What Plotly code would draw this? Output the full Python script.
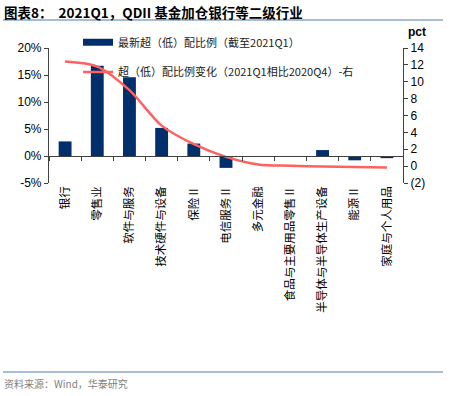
import plotly.graph_objects as go

categories = ["银行", "零售业", "软件与服务", "技术硬件与设备", "保险Ⅱ", "电信服务Ⅱ",
              "多元金融", "食品与主要用品零售Ⅱ", "半导体与半导体生产设备", "能源Ⅱ", "家庭与个人用品"]
latest_ratio = [2.7, 16.7, 14.6, 5.2, 2.3, -2.2, 0.0, -0.1, 1.1, -0.8, -0.4]
ratio_change = [12.4, 11.8, 9.0, 4.8, 2.6, 1.1, 0.2, 0.05, -0.05, -0.1, -0.15]

left_ticks = [-5, 0, 5, 10, 15, 20]
left_ticktext = ["-5%", "0%", "5%", "10%", "15%", "20%"]
right_ticks = [-2, 0, 2, 4, 6, 8, 10, 12, 14]
right_ticktext = ["(2)", "0", "2", "4", "6", "8", "10", "12", "14"]

BAR = "#002F6C"
LINE = "#FF6060"
AXIS = "#404040"
FONT = "Noto Sans CJK SC"
NAME_BAR = "最新超（低）配比例（截至2021Q1）"
NAME_LINE = "超（低）配比例变化（2021Q1相比2020Q4）-右"

fig = go.Figure()
fig.add_trace(go.Bar(x=categories, y=latest_ratio, name=NAME_BAR,
                     marker=dict(color=BAR, line=dict(width=0)), yaxis="y", showlegend=False))
# legend entry with a wide bar-like swatch
fig.add_trace(go.Scatter(x=[None], y=[None], name=NAME_BAR, mode="lines",
                         line=dict(color=BAR, width=7), legend="legend"))
fig.add_trace(go.Scatter(x=categories, y=ratio_change, name=NAME_LINE,
                         mode="lines", line=dict(color=LINE, width=2.5, shape="spline", smoothing=0.8),
                         yaxis="y2", legend="legend2"))
# invisible trace to carry boundary ticks on the zero line
fig.add_trace(go.Scatter(x=[-0.5, 10.5], y=[0, 0], mode="lines", line=dict(width=0),
                         xaxis="x2", yaxis="y", showlegend=False, hoverinfo="skip"))

fig.update_layout(
    width=459, height=396,
    margin=dict(l=49, r=56, t=48, b=213),
    paper_bgcolor="white", plot_bgcolor="white",
    font=dict(family=FONT, size=11, color="#000000"),
    bargap=0.6,
    showlegend=True,
    xaxis=dict(type="category", showline=False, ticks="", showgrid=False, zeroline=False,
               tickangle=-90, tickfont=dict(family=FONT, size=11.5, color="#000"),
               range=[-0.5, 10.5]),
    xaxis2=dict(overlaying="x", anchor="free", position=0.2, range=[-0.5, 10.5],
                showline=True, linecolor=AXIS, linewidth=1.2, ticks="outside", ticklen=4,
                tickcolor=AXIS, tickvals=[-0.5 + i for i in range(12)], showticklabels=False,
                showgrid=False, zeroline=False),
    yaxis=dict(range=[-5, 20], tickvals=left_ticks, ticktext=left_ticktext, showgrid=False,
               zeroline=False, showline=True, linecolor=AXIS, linewidth=1.2,
               ticks="outside", ticklen=4, tickcolor=AXIS,
               tickfont=dict(family="Liberation Sans, Arial", size=12, color="#000")),
    yaxis2=dict(range=[-2, 14], overlaying="y", side="right", tickvals=right_ticks,
                ticktext=right_ticktext, showgrid=False, zeroline=False, showline=True,
                linecolor=AXIS, linewidth=1.2, ticks="outside", ticklen=4, tickcolor=AXIS,
                tickfont=dict(family="Liberation Sans, Arial", size=12, color="#000")),
    legend=dict(x=0.082, y=1.15, xanchor="left", yanchor="top", bgcolor="rgba(0,0,0,0)",
                font=dict(family=FONT, size=11, color="#222"), itemwidth=30),
    legend2=dict(x=0.082, y=0.93, xanchor="left", yanchor="top", bgcolor="rgba(0,0,0,0)",
                 font=dict(family=FONT, size=11, color="#222"), itemwidth=30),
)

fig.add_annotation(text="<b>图表8：  2021Q1，QDII 基金加仓银行等二级行业</b>", xref="paper", yref="paper",
                   x=-47/354, y=1 + (48-12)/135, xanchor="left", yanchor="middle", showarrow=False,
                   font=dict(family=FONT, size=13.5, color="#000"))
fig.add_annotation(text="<b>pct</b>", xref="paper", yref="paper", x=1 + 14/354, y=1 + 16/135,
                   xanchor="center", yanchor="middle", showarrow=False,
                   font=dict(family="Liberation Sans, Arial", size=12, color="#000"))
fig.add_annotation(text="资料来源：Wind，华泰研究", xref="paper", yref="paper",
                   x=-47/354, y=-(383-183)/135, xanchor="left", yanchor="middle", showarrow=False,
                   font=dict(family=FONT, size=10, color="#7F7F7F"))

fig.add_shape(type="line", xref="paper", yref="paper", x0=-46/354, x1=(443-49)/354,
              y0=1 + (48-20)/135, y1=1 + (48-20)/135, line=dict(color="#4F7CAC", width=1.2))
fig.add_shape(type="line", xref="paper", yref="paper", x0=-46/354, x1=(443-49)/354,
              y0=-(372-183)/135, y1=-(372-183)/135, line=dict(color="#4F7CAC", width=1.2))

fig.write_html("out.html", config={"displayModeBar": False},
               post_script="document.body.style.margin='0';")
